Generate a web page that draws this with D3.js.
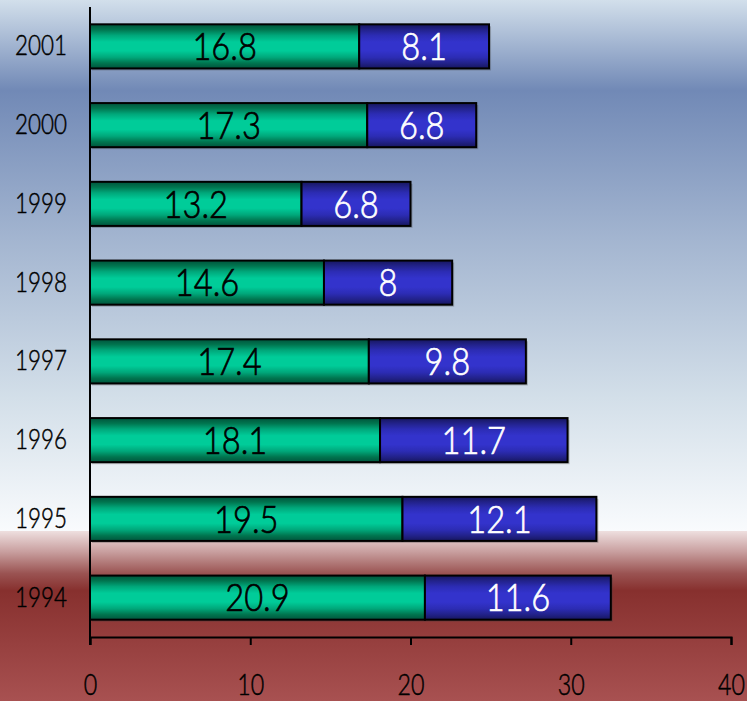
<!DOCTYPE html>
<html>
<head>
<meta charset="utf-8">
<script src="https://cdn.jsdelivr.net/npm/d3@7"></script>
<style>
  html, body { margin: 0; padding: 0; background: #fff; }
  svg { display: block; }
  text { font-family: "Futura", "Century Gothic", "Lato", sans-serif; font-weight: 300; }
</style>
</head>
<body>
<svg id="chart" width="747" height="701"></svg>
<script>
// Annual values, first segment (green) and second segment (blue)
const years = ["2001", "2000", "1999", "1998", "1997", "1996", "1995", "1994"];
const firstValues = [16.8, 17.3, 13.2, 14.6, 17.4, 18.1, 19.5, 20.9];
const secondValues = [8.1, 6.8, 6.8, 8, 9.8, 11.7, 12.1, 11.6];
const xTicks = [0, 10, 20, 30, 40];

const W = 747, H = 701;
const NARROW = 0.8; // horizontal squeeze for a condensed look
const svg = d3.select("#chart");
const defs = svg.append("defs");

// Page background: blue sky gradient above, dark red band below
const bgBlue = defs.append("linearGradient").attr("id", "bgBlue")
  .attr("x1", 0).attr("y1", 0).attr("x2", 0).attr("y2", 1);
[[0, "#d2dfeb"], [0.17, "#7189b6"], [0.45, "#a3b5d0"], [0.75, "#d3dfe9"], [1, "#f9fbfd"]]
  .forEach(([o, c]) => bgBlue.append("stop").attr("offset", o).attr("stop-color", c));
const bgRed = defs.append("linearGradient").attr("id", "bgRed")
  .attr("x1", 0).attr("y1", 0).attr("x2", 0).attr("y2", 1);
[[0, "#eedfdf"], [0.12, "#c9a0a0"], [0.25, "#9a5352"], [0.35, "#87302e"], [1, "#a85151"]]
  .forEach(([o, c]) => bgRed.append("stop").attr("offset", o).attr("stop-color", c));

const split = 531;
svg.append("rect").attr("x", 0).attr("y", 0).attr("width", W).attr("height", split).attr("fill", "url(#bgBlue)");
svg.append("rect").attr("x", 0).attr("y", split).attr("width", W).attr("height", H - split).attr("fill", "url(#bgRed)");

// Bar fills: banded vertical shading, darker at edges
function bandGradient(id, stops) {
  const g = defs.append("linearGradient").attr("id", id)
    .attr("x1", 0).attr("y1", 0).attr("x2", 0).attr("y2", 1);
  stops.forEach(([o, c]) => g.append("stop").attr("offset", o).attr("stop-color", c));
}
bandGradient("gGreen", [[0, "#00543c"], [0.12, "#00754f"], [0.25, "#00a77a"], [0.4, "#00cc99"], [0.6, "#00cc99"], [0.75, "#00a77a"], [0.88, "#00754f"], [1, "#00543c"]]);
bandGradient("gBlue", [[0, "#16165e"], [0.12, "#22228a"], [0.25, "#2c2cb4"], [0.4, "#3333cc"], [0.6, "#3333cc"], [0.75, "#2c2cb4"], [0.88, "#22228a"], [1, "#16165e"]]);

const x = d3.scaleLinear().domain([0, 40]).range([90, 731]);
const y = d3.scaleBand().domain(years).range([7, 637]).paddingInner(0.44).paddingOuter(0.22);

const rows = years.map((yr, i) => ({ year: yr, a: firstValues[i], b: secondValues[i] }));

const g = svg.append("g");

// subtle drop shadow behind each bar
g.selectAll("rect.shadow").data(rows).join("rect")
  .attr("class", "shadow")
  .attr("x", x(0) + 2).attr("y", d => y(d.year) + 2)
  .attr("width", d => x(d.a + d.b) - x(0)).attr("height", y.bandwidth())
  .attr("fill", "rgba(60,60,60,0.3)");

g.selectAll("rect.segA").data(rows).join("rect")
  .attr("class", "segA")
  .attr("x", x(0)).attr("y", d => y(d.year))
  .attr("width", d => x(d.a) - x(0)).attr("height", y.bandwidth())
  .attr("fill", "url(#gGreen)").attr("stroke", "#000").attr("stroke-width", 2);

g.selectAll("rect.segB").data(rows).join("rect")
  .attr("class", "segB")
  .attr("x", d => x(d.a)).attr("y", d => y(d.year))
  .attr("width", d => x(d.a + d.b) - x(d.a)).attr("height", y.bandwidth())
  .attr("fill", "url(#gBlue)").attr("stroke", "#000").attr("stroke-width", 2);

// value labels centred in each segment
function valueLabel(cls, cx, val, color) {
  g.selectAll("text." + cls).data(rows).join("text")
    .attr("class", cls)
    .attr("transform", d => `translate(${cx(d)},${y(d.year) + y.bandwidth() / 2}) scale(0.86,1)`)
    .attr("dy", "0.36em")
    .attr("text-anchor", "middle")
    .attr("font-size", 38)
    .attr("fill", color)
    .attr("stroke", color).attr("stroke-width", 0.7)
    .text(val);
}
valueLabel("labA", d => (x(0) + x(d.a)) / 2, d => d.a, "#000");
valueLabel("labB", d => (x(d.a) + x(d.a + d.b)) / 2, d => d.b, "#fff");

// Axes
const xAxis = d3.axisBottom(x).tickValues(xTicks).tickSize(8).tickPadding(30).tickSizeOuter(8);
const gx = svg.append("g").attr("transform", "translate(0,637)").call(xAxis);
gx.select(".domain").attr("stroke", "#000").attr("stroke-width", 2);
gx.selectAll(".tick line").attr("stroke", "#000").attr("stroke-width", 2);
gx.selectAll(".tick text").attr("font-size", 29).attr("fill", "#000")
  .attr("stroke", "#000").attr("stroke-width", 0.5)
  .attr("font-family", null).attr("y", 58).attr("dy", 0)
  .attr("transform", `scale(${NARROW},1)`);

const yAxis = d3.axisLeft(y).tickSize(0).tickPadding(0);
const gy = svg.append("g").attr("transform", "translate(90,0)").call(yAxis);
gy.select(".domain").remove();
gy.selectAll(".tick text").attr("font-size", 28).attr("fill", "#000").attr("font-family", null)
  .attr("stroke", "#000").attr("stroke-width", 0.5)
  .attr("x", -23 / NARROW).attr("transform", `scale(${NARROW},1)`);
svg.append("line").attr("x1", 90).attr("x2", 90).attr("y1", 7).attr("y2", 645)
  .attr("stroke", "#000").attr("stroke-width", 2);
</script>
</body>
</html>
